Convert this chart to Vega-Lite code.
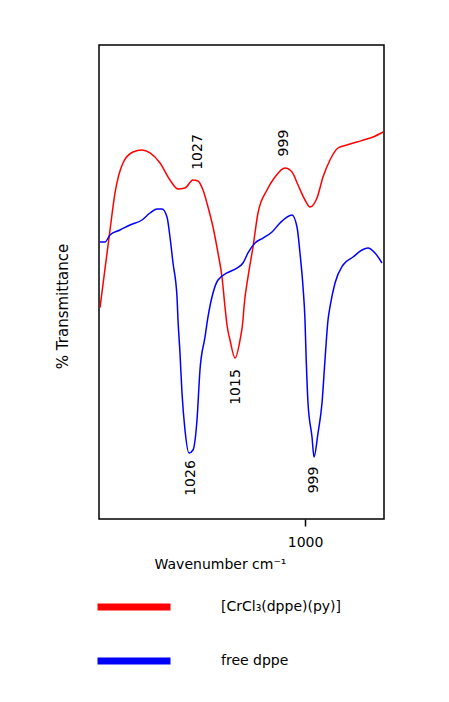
{
  "$schema": "https://vega.github.io/schema/vega-lite/v6.json",
  "width": 285,
  "height": 474,
  "autosize": "none",
  "padding": {"left": 99, "top": 45, "right": 65, "bottom": 183},
  "background": "white",
  "config": {
    "view": {"stroke": "black", "strokeWidth": 1.5},
    "font": "DejaVu Sans"
  },
  "datasets": {
    "spectra": [
      {"series": "[CrCl₃(dppe)(py)]", "wavenumber": 1046.77, "T": 44.6},
      {"series": "[CrCl₃(dppe)(py)]", "wavenumber": 1044.49, "T": 60.97},
      {"series": "[CrCl₃(dppe)(py)]", "wavenumber": 1043.35, "T": 68.78},
      {"series": "[CrCl₃(dppe)(py)]", "wavenumber": 1041.53, "T": 75.11},
      {"series": "[CrCl₃(dppe)(py)]", "wavenumber": 1039.25, "T": 77.43},
      {"series": "[CrCl₃(dppe)(py)]", "wavenumber": 1037.19, "T": 77.85},
      {"series": "[CrCl₃(dppe)(py)]", "wavenumber": 1035.37, "T": 77.22},
      {"series": "[CrCl₃(dppe)(py)]", "wavenumber": 1033.09, "T": 75.11},
      {"series": "[CrCl₃(dppe)(py)]", "wavenumber": 1030.81, "T": 71.52},
      {"series": "[CrCl₃(dppe)(py)]", "wavenumber": 1028.98, "T": 69.62},
      {"series": "[CrCl₃(dppe)(py)]", "wavenumber": 1027.39, "T": 69.83},
      {"series": "[CrCl₃(dppe)(py)]", "wavenumber": 1025.56, "T": 71.52},
      {"series": "[CrCl₃(dppe)(py)]", "wavenumber": 1024.42, "T": 71.31},
      {"series": "[CrCl₃(dppe)(py)]", "wavenumber": 1023.28, "T": 69.41},
      {"series": "[CrCl₃(dppe)(py)]", "wavenumber": 1022.14, "T": 65.82},
      {"series": "[CrCl₃(dppe)(py)]", "wavenumber": 1021.0, "T": 61.6},
      {"series": "[CrCl₃(dppe)(py)]", "wavenumber": 1019.86, "T": 56.12},
      {"series": "[CrCl₃(dppe)(py)]", "wavenumber": 1018.95, "T": 51.05},
      {"series": "[CrCl₃(dppe)(py)]", "wavenumber": 1018.26, "T": 44.73},
      {"series": "[CrCl₃(dppe)(py)]", "wavenumber": 1017.81, "T": 40.93},
      {"series": "[CrCl₃(dppe)(py)]", "wavenumber": 1017.12, "T": 37.76},
      {"series": "[CrCl₃(dppe)(py)]", "wavenumber": 1015.98, "T": 33.97},
      {"series": "[CrCl₃(dppe)(py)]", "wavenumber": 1014.84, "T": 37.76},
      {"series": "[CrCl₃(dppe)(py)]", "wavenumber": 1014.16, "T": 41.98},
      {"series": "[CrCl₃(dppe)(py)]", "wavenumber": 1013.93, "T": 44.73},
      {"series": "[CrCl₃(dppe)(py)]", "wavenumber": 1013.02, "T": 51.05},
      {"series": "[CrCl₃(dppe)(py)]", "wavenumber": 1011.88, "T": 57.38},
      {"series": "[CrCl₃(dppe)(py)]", "wavenumber": 1010.74, "T": 64.56},
      {"series": "[CrCl₃(dppe)(py)]", "wavenumber": 1008.68, "T": 69.41},
      {"series": "[CrCl₃(dppe)(py)]", "wavenumber": 1006.86, "T": 72.15},
      {"series": "[CrCl₃(dppe)(py)]", "wavenumber": 1004.58, "T": 74.05},
      {"series": "[CrCl₃(dppe)(py)]", "wavenumber": 1002.98, "T": 73.21},
      {"series": "[CrCl₃(dppe)(py)]", "wavenumber": 1001.61, "T": 70.46},
      {"series": "[CrCl₃(dppe)(py)]", "wavenumber": 1000.02, "T": 67.3},
      {"series": "[CrCl₃(dppe)(py)]", "wavenumber": 998.88, "T": 65.82},
      {"series": "[CrCl₃(dppe)(py)]", "wavenumber": 997.28, "T": 67.72},
      {"series": "[CrCl₃(dppe)(py)]", "wavenumber": 995.91, "T": 72.15},
      {"series": "[CrCl₃(dppe)(py)]", "wavenumber": 994.32, "T": 75.74},
      {"series": "[CrCl₃(dppe)(py)]", "wavenumber": 992.49, "T": 78.27},
      {"series": "[CrCl₃(dppe)(py)]", "wavenumber": 990.44, "T": 78.9},
      {"series": "[CrCl₃(dppe)(py)]", "wavenumber": 988.16, "T": 79.54},
      {"series": "[CrCl₃(dppe)(py)]", "wavenumber": 985.88, "T": 80.17},
      {"series": "[CrCl₃(dppe)(py)]", "wavenumber": 984.51, "T": 80.59},
      {"series": "[CrCl₃(dppe)(py)]", "wavenumber": 982.23, "T": 81.65},
      {"series": "free dppe", "wavenumber": 1046.77, "T": 58.44},
      {"series": "free dppe", "wavenumber": 1045.63, "T": 58.44},
      {"series": "free dppe", "wavenumber": 1044.49, "T": 59.92},
      {"series": "free dppe", "wavenumber": 1042.21, "T": 60.97},
      {"series": "free dppe", "wavenumber": 1039.93, "T": 62.03},
      {"series": "free dppe", "wavenumber": 1037.19, "T": 63.08},
      {"series": "free dppe", "wavenumber": 1035.37, "T": 64.56},
      {"series": "free dppe", "wavenumber": 1033.77, "T": 65.4},
      {"series": "free dppe", "wavenumber": 1032.63, "T": 65.4},
      {"series": "free dppe", "wavenumber": 1031.49, "T": 63.71},
      {"series": "free dppe", "wavenumber": 1030.81, "T": 59.49},
      {"series": "free dppe", "wavenumber": 1030.12, "T": 54.01},
      {"series": "free dppe", "wavenumber": 1029.21, "T": 46.84},
      {"series": "free dppe", "wavenumber": 1028.98, "T": 41.98},
      {"series": "free dppe", "wavenumber": 1028.53, "T": 35.02},
      {"series": "free dppe", "wavenumber": 1028.07, "T": 26.58},
      {"series": "free dppe", "wavenumber": 1027.39, "T": 18.78},
      {"series": "free dppe", "wavenumber": 1026.47, "T": 13.92},
      {"series": "free dppe", "wavenumber": 1025.56, "T": 14.56},
      {"series": "free dppe", "wavenumber": 1024.65, "T": 20.89},
      {"series": "free dppe", "wavenumber": 1023.97, "T": 31.43},
      {"series": "free dppe", "wavenumber": 1022.82, "T": 38.4},
      {"series": "free dppe", "wavenumber": 1022.14, "T": 42.62},
      {"series": "free dppe", "wavenumber": 1021.0, "T": 47.68},
      {"series": "free dppe", "wavenumber": 1019.86, "T": 50.42},
      {"series": "free dppe", "wavenumber": 1017.81, "T": 51.9},
      {"series": "free dppe", "wavenumber": 1015.53, "T": 52.95},
      {"series": "free dppe", "wavenumber": 1014.16, "T": 54.01},
      {"series": "free dppe", "wavenumber": 1013.02, "T": 56.12},
      {"series": "free dppe", "wavenumber": 1011.42, "T": 58.23},
      {"series": "free dppe", "wavenumber": 1009.6, "T": 59.28},
      {"series": "free dppe", "wavenumber": 1007.54, "T": 60.55},
      {"series": "free dppe", "wavenumber": 1005.72, "T": 62.45},
      {"series": "free dppe", "wavenumber": 1002.98, "T": 64.14},
      {"series": "free dppe", "wavenumber": 1001.84, "T": 61.6},
      {"series": "free dppe", "wavenumber": 1001.16, "T": 56.12},
      {"series": "free dppe", "wavenumber": 1000.47, "T": 48.95},
      {"series": "free dppe", "wavenumber": 1000.02, "T": 41.98},
      {"series": "free dppe", "wavenumber": 999.79, "T": 35.02},
      {"series": "free dppe", "wavenumber": 999.33, "T": 24.47},
      {"series": "free dppe", "wavenumber": 998.42, "T": 17.3},
      {"series": "free dppe", "wavenumber": 997.96, "T": 13.08},
      {"series": "free dppe", "wavenumber": 997.05, "T": 18.14},
      {"series": "free dppe", "wavenumber": 996.14, "T": 24.47},
      {"series": "free dppe", "wavenumber": 995.46, "T": 33.54},
      {"series": "free dppe", "wavenumber": 994.77, "T": 41.98},
      {"series": "free dppe", "wavenumber": 994.32, "T": 44.73},
      {"series": "free dppe", "wavenumber": 993.17, "T": 49.79},
      {"series": "free dppe", "wavenumber": 991.35, "T": 53.59},
      {"series": "free dppe", "wavenumber": 989.07, "T": 55.27},
      {"series": "free dppe", "wavenumber": 987.02, "T": 56.75},
      {"series": "free dppe", "wavenumber": 985.65, "T": 57.17},
      {"series": "free dppe", "wavenumber": 984.05, "T": 56.12},
      {"series": "free dppe", "wavenumber": 982.46, "T": 54.01}
    ],
    "peaks": [
      {"label": "1027", "wavenumber": 1024.42, "T": 77.43},
      {"label": "999", "wavenumber": 1004.81, "T": 79.32},
      {"label": "1015", "wavenumber": 1015.76, "T": 27.85},
      {"label": "1026", "wavenumber": 1026.02, "T": 8.65},
      {"label": "999", "wavenumber": 997.96, "T": 8.23}
    ]
  },
  "layer": [
    {
      "data": {"name": "spectra"},
      "mark": {"type": "line", "strokeWidth": 1.5, "interpolate": "monotone"},
      "encoding": {
        "x": {
          "field": "wavenumber",
          "type": "quantitative",
          "scale": {"domain": [982, 1047], "reverse": true, "nice": false, "zero": false},
          "axis": {
            "values": [1000],
            "format": "d",
            "domain": false,
            "grid": false,
            "tickSize": 7,
            "tickWidth": 1.5,
            "tickColor": "black",
            "labelPadding": 9,
            "labelFontSize": 14,
            "labelColor": "black",
            "labelFont": "DejaVu Sans",
            "title": "Wavenumber cm⁻¹",
            "titleFont": "DejaVu Sans",
            "titleFontSize": 14,
            "titleFontWeight": "normal",
            "titleColor": "black",
            "titleAnchor": "start",
            "titleAlign": "center",
            "titleX": 121,
            "titleY": 45,
            "titleBaseline": "middle"
          }
        },
        "y": {
          "field": "T",
          "type": "quantitative",
          "scale": {"domain": [0, 100], "nice": false},
          "axis": {
            "domain": false,
            "ticks": false,
            "labels": false,
            "grid": false,
            "title": "% Transmittance",
            "titleFont": "DejaVu Sans",
            "titleFontSize": 15,
            "titleFontWeight": "normal",
            "titleColor": "black",
            "titleAngle": 270,
            "titleAlign": "center",
            "titleBaseline": "middle",
            "titleX": -37,
            "titleY": 261
          }
        },
        "color": {
          "field": "series",
          "type": "nominal",
          "scale": {"domain": ["[CrCl₃(dppe)(py)]", "free dppe"], "range": ["#ff0000", "#0000ff"]},
          "legend": {
            "title": null,
            "orient": "none",
            "legendX": -5,
            "legendY": 522,
            "padding": 0,
            "symbolType": "stroke",
            "symbolSize": 5329,
            "symbolStrokeWidth": 7,
            "labelOffset": 47,
            "labelFont": "DejaVu Sans",
            "labelFontSize": 14,
            "labelColor": "black",
            "rowPadding": -25
          }
        }
      }
    },
    {
      "data": {"name": "peaks"},
      "mark": {"type": "text", "angle": 270, "align": "center", "baseline": "middle", "font": "DejaVu Sans", "fontSize": 14, "color": "black"},
      "encoding": {
        "x": {"field": "wavenumber", "type": "quantitative"},
        "y": {"field": "T", "type": "quantitative"},
        "text": {"field": "label"}
      }
    }
  ]
}
